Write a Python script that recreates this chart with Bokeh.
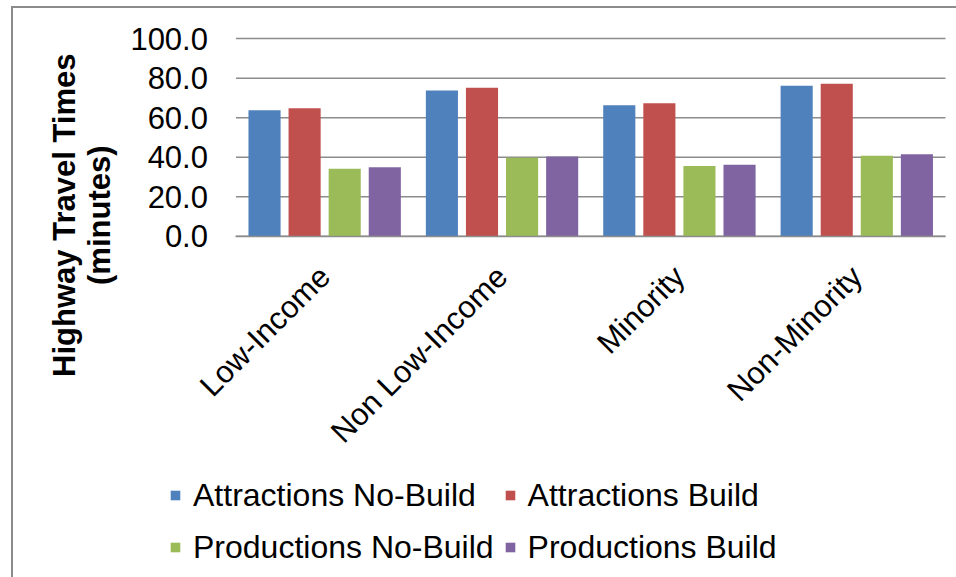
from bokeh.plotting import figure
from bokeh.models import (ColumnDataSource, Range1d, FixedTicker,
                          NumeralTickFormatter, Legend, LegendItem, Label)
from bokeh.embed import file_html
from bokeh.resources import INLINE
import math

categories = ["Low-Income", "Non Low-Income", "Minority", "Non-Minority"]
series_names = ["Attractions No-Build", "Attractions Build",
                "Productions No-Build", "Productions Build"]
attractions_no_build = [63.8, 73.8, 66.3, 76.1]
attractions_build = [64.8, 75.1, 67.3, 77.2]
productions_no_build = [34.2, 39.7, 35.5, 40.8]
productions_build = [34.9, 40.4, 36.2, 41.5]
y_ticks = [0, 20, 40, 60, 80, 100]

series = [attractions_no_build, attractions_build, productions_no_build, productions_build]
colors = ["#4F81BD", "#C0504D", "#9BBB59", "#8064A2"]
offsets = [-0.339, -0.113, 0.113, 0.339]
FONT = "Liberation Sans"
FS = "31px"

n = len(categories)
centers = [i + 0.5 for i in range(n)]

# geometry: canvas 943x569 placed at page (13, 8); plot area page x 235..943, y 38(100)..235(0)
px_per_cat = (943 - 235) / n
px_per_unit = (235 - 38) / 100
x_range = Range1d((13 - 235) / px_per_cat, (956 - 235) / px_per_cat)
y_range = Range1d((235 - 577) / px_per_unit, (235 - 8) / px_per_unit)

p = figure(x_range=x_range, y_range=y_range, width=943, height=569,
           output_backend="svg", toolbar_location=None,
           min_border=0, min_border_left=0, min_border_right=0,
           min_border_top=0, min_border_bottom=0)
p.styles = {"margin-left": "11px", "margin-top": "6px", "box-sizing": "content-box",
            "border-left": "2px solid #8c8c8c", "border-top": "2px solid #8c8c8c"}
p.outline_line_color = None
p.background_fill_color = "white"
p.border_fill_color = "white"
p.xgrid.visible = False
p.ygrid.visible = False

# horizontal gridlines spanning the category area
p.segment(x0=[0] * len(y_ticks), x1=[n] * len(y_ticks), y0=y_ticks, y1=y_ticks,
          line_color="#8c8c8c", line_width=1.5)

renderers = []
for i, vals in enumerate(series):
    src = ColumnDataSource(dict(x=[c + offsets[i] for c in centers], top=vals))
    r = p.vbar(x="x", top="top", width=0.181, source=src,
               fill_color=colors[i], line_color=None)
    renderers.append(r)

# y axis at the left edge of the category area
ya = p.yaxis[0]
ya.fixed_location = 0
ya.bounds = (0, 100)
ya.ticker = FixedTicker(ticks=y_ticks)
ya.formatter = NumeralTickFormatter(format="0.0")
ya.axis_line_color = None
ya.major_tick_line_color = None
ya.minor_tick_line_color = None
ya.major_tick_out = 0
ya.major_tick_in = 0
ya.major_label_standoff = 28
ya.major_label_text_font = FONT
ya.major_label_text_font_size = FS
ya.major_label_text_color = "black"

# x axis at y = 0
xa = p.xaxis[0]
xa.fixed_location = 0
xa.bounds = (0, n)
xa.ticker = FixedTicker(ticks=centers)
xa.major_label_overrides = {c: name for c, name in zip(centers, categories)}
xa.axis_line_color = "#8c8c8c"
xa.axis_line_width = 1.5
xa.major_tick_line_color = None
xa.minor_tick_line_color = None
xa.major_tick_out = 0
xa.major_tick_in = 0
xa.major_label_orientation = math.pi / 4
xa.major_label_standoff = 35
xa.major_label_text_font = FONT
xa.major_label_text_font_size = FS
xa.major_label_text_color = "black"

# y axis title (two lines)
title_y = (235 - 214) / px_per_unit
for txt, page_x in [("Highway Travel Times", 64), ("(minutes)", 99)]:
    p.add_layout(Label(x=(page_x - 235) / px_per_cat, y=title_y, text=txt,
                       angle=math.pi / 2, text_align="center", text_baseline="middle",
                       text_font=FONT, text_font_size=FS, text_font_style="bold",
                       text_color="black"))

# legend: two rows (Attractions / Productions), filled column by column
order = [0, 2, 1, 3]
legend = Legend(items=[LegendItem(label=series_names[i], renderers=[renderers[i]])
                       for i in order],
                ncols=2, location=(156, 11),
                glyph_width=12, glyph_height=12, label_standoff=12,
                label_height=42, spacing=10, padding=0, margin=0,
                border_line_color=None, background_fill_alpha=0,
                label_text_font=FONT, label_text_font_size="32px",
                label_text_color="black")
p.add_layout(legend, "center")

open("out.html", "w").write(file_html(p, INLINE))
